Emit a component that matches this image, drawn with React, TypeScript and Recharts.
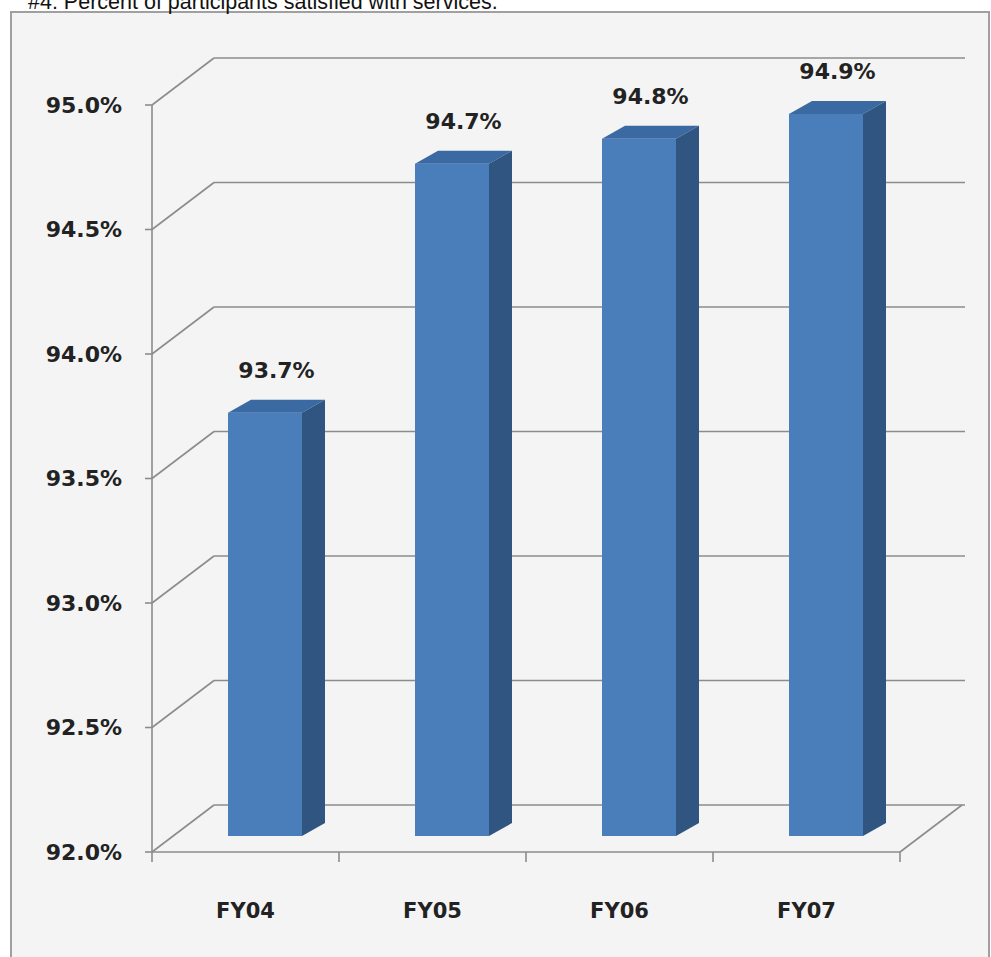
import { Bar, BarChart, CartesianGrid, LabelList, XAxis, YAxis } from "recharts";

const categories = ["FY04", "FY05", "FY06", "FY07"];
const satisfied = [93.7, 94.7, 94.8, 94.9];
const yTicks = [92, 92.5, 93, 93.5, 94, 94.5, 95];

const data = categories.map((year, i) => ({ year, pct: satisfied[i] }));

// fake 3d offsets
const WALL_DX = 62;
const WALL_DY = -47;
const BAR_DX = 19;
const BAR_DY = -16;
const TOP_DX = 23;
const TOP_DY = -13;

const FONT = "'DejaVu Sans', Verdana, sans-serif";
const GRID = "#8c8c8c";

const Bar3D = (props: any) => {
  const { x, y, width, height } = props;
  const fx = x + BAR_DX;
  const fy = y + BAR_DY;
  return (
    <g>
      <rect x={fx} y={fy} width={width} height={height} fill="#4a7ebb" />
      <polygon
        points={`${fx},${fy} ${fx + width},${fy} ${fx + width + TOP_DX},${fy + TOP_DY} ${fx + TOP_DX},${fy + TOP_DY}`}
        fill="#3b6aa3"
      />
      <polygon
        points={`${fx + width},${fy} ${fx + width + TOP_DX},${fy + TOP_DY} ${fx + width + TOP_DX},${fy + height + TOP_DY} ${fx + width},${fy + height}`}
        fill="#2f5580"
      />
    </g>
  );
};

const ValueLabel = (props: any) => {
  const { x, y, width, value } = props;
  return (
    <text
      x={x + BAR_DX + width / 2 + TOP_DX / 2}
      y={y + BAR_DY + TOP_DY - 22}
      textAnchor="middle"
      fontFamily={FONT}
      fontWeight="bold"
      fontSize={22}
      fill="#222"
    >
      {value.toFixed(1)}%
    </text>
  );
};

const BackWallLine = (props: any) => {
  const { x1, y1, x2 } = props;
  return (
    <g stroke={GRID} strokeWidth={1.6} fill="none">
      <line x1={x1} y1={y1} x2={x1 + WALL_DX} y2={y1 + WALL_DY} />
      <line x1={x1 + WALL_DX} y1={y1 + WALL_DY} x2={x2 + WALL_DX + 3} y2={y1 + WALL_DY} />
    </g>
  );
};

const FloorTick = (props: any) => {
  const { x1, y2, index } = props;
  return (
    <g stroke={GRID} strokeWidth={1.6} fill="none">
      <line x1={x1} y1={y2} x2={x1} y2={y2 + 10} />
      {index === categories.length && (
        <line x1={x1} y1={y2} x2={x1 + WALL_DX} y2={y2 + WALL_DY} />
      )}
    </g>
  );
};

const YearTick = (props: any) => {
  const { x, y, payload } = props;
  return (
    <text
      x={x}
      y={y + 58}
      textAnchor="middle"
      fontFamily={FONT}
      fontWeight="bold"
      fontSize={21}
      fill="#222"
    >
      {payload.value}
    </text>
  );
};

const App = () => {
  return (
    <div style={{ position: "absolute", left: 0, top: 0, width: 991, height: 957, background: "#fff", overflow: "hidden" }}>
      <div
        style={{
          position: "absolute",
          left: 10,
          top: 11,
          width: 976,
          height: 980,
          border: "2px solid #a0a0a0",
          background: "#f4f4f4",
        }}
      />
      <div
        style={{
          position: "absolute",
          left: 28,
          top: -8,
          lineHeight: "20px",
          fontFamily: "'Liberation Sans', Arial, sans-serif",
          fontSize: 21.5,
          color: "#111",
          whiteSpace: "nowrap",
        }}
      >
        #4: Percent of participants satisfied with services.
      </div>
      <div style={{ position: "absolute", left: 0, top: 0 }}>
        <BarChart
          width={991}
          height={957}
          data={data}
          margin={{ top: 105, right: 91, bottom: 45, left: 0 }}
        >
          <CartesianGrid
            horizontal={BackWallLine}
            vertical={FloorTick}
            verticalCoordinatesGenerator={({ offset }: any) =>
              [0, 1, 2, 3, 4].map((i) => offset.left + (offset.width * i) / categories.length)
            }
          />
          <XAxis
            dataKey="year"
            height={60}
            axisLine={{ stroke: GRID, strokeWidth: 1.6 }}
            tickLine={false}
            tick={YearTick}
          />
          <YAxis
            width={152}
            domain={[92, 95]}
            ticks={yTicks}
            tickFormatter={(v: number) => `${v.toFixed(1)}%`}
            axisLine={{ stroke: GRID, strokeWidth: 1.6 }}
            tickLine={{ stroke: GRID, strokeWidth: 1.6 }}
            tickSize={7}
            tickMargin={23}
            tick={{ fill: "#222", fontFamily: FONT, fontWeight: "bold", fontSize: 22 }}
          />
          <Bar dataKey="pct" barSize={74} shape={Bar3D} isAnimationActive={false}>
            <LabelList dataKey="pct" content={ValueLabel} />
          </Bar>
        </BarChart>
      </div>
    </div>
  );
};

export default App;
